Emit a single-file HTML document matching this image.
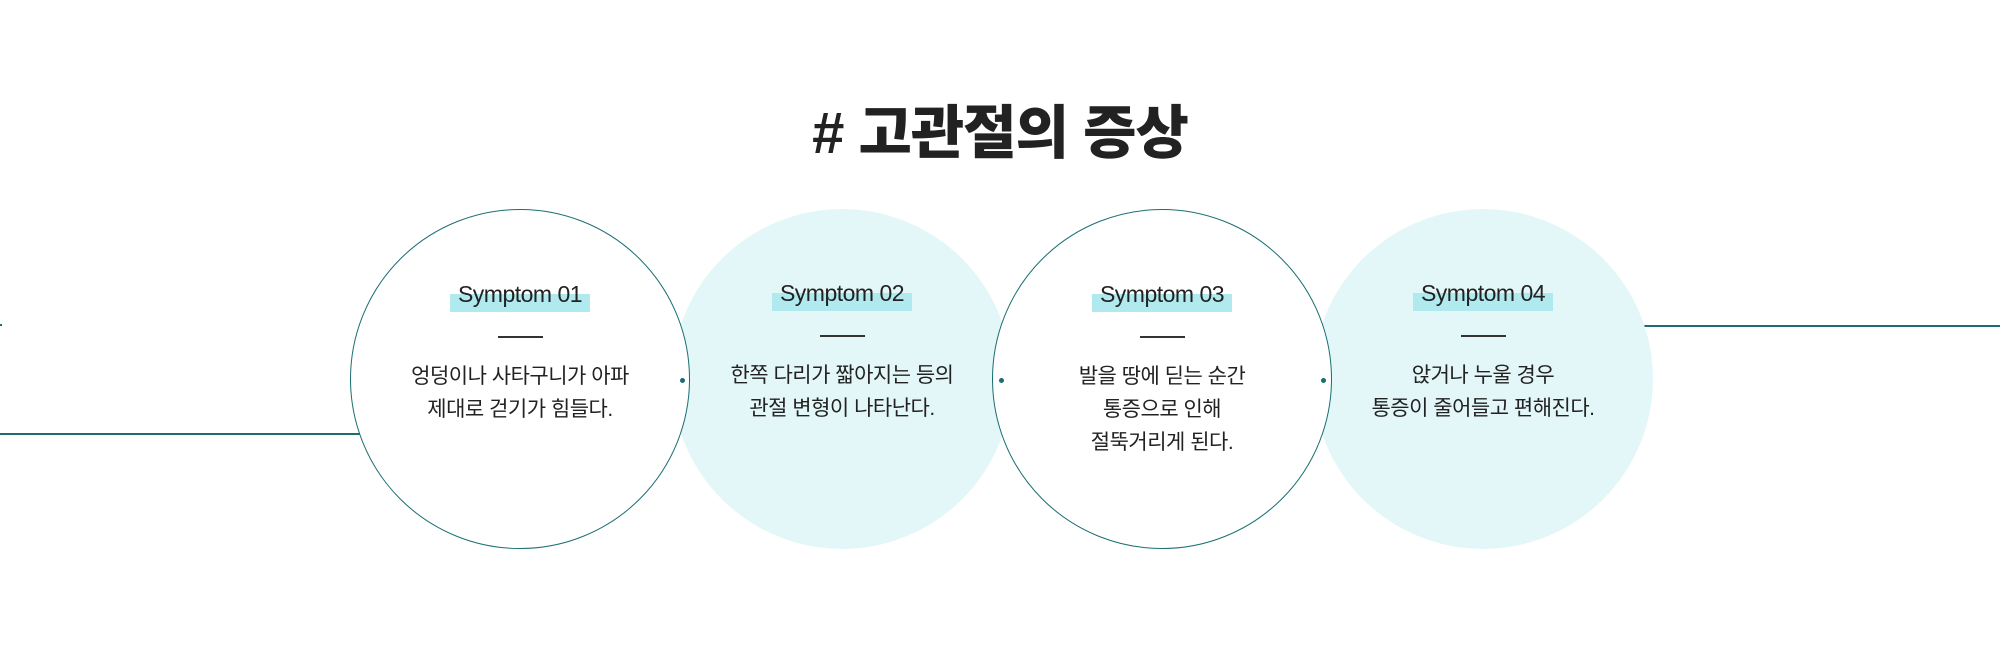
<!DOCTYPE html>
<html><head><meta charset="utf-8"><style>
body{margin:0;width:2000px;height:649px;background:#fff;position:relative;overflow:hidden;font-family:"Liberation Sans","Noto Sans CJK KR",sans-serif;color:#222}
.t{position:absolute;left:0;width:2000px;top:86px;text-align:center;font-size:58px;font-weight:900;color:#222;letter-spacing:-1px}
.c{position:absolute;top:209px;width:340px;height:340px;border-radius:50%;box-sizing:border-box}
.o{border:1.3px solid #1a6e72;background:#fff}
.f{background:#e4f7f8}
.in{position:absolute;top:69px;left:0;width:100%;text-align:center}
.lb{display:inline-block;font-size:23px;position:relative;padding:0 8px;letter-spacing:-0.5px;line-height:30px}
.lb:before{content:"";position:absolute;left:0;right:0;bottom:-3px;height:18px;background:#b0eaee;z-index:-1}
.lb span{position:relative}
.d{width:45px;height:1.5px;background:#333;margin:27px auto 22px}
.tx{font-size:21px;line-height:33px;letter-spacing:-0.5px}
.ln{position:absolute;height:1.5px;background:#1a6e72}
.dot{position:absolute;width:5px;height:5px;border-radius:50%;background:#1a6e72;top:378px}
</style></head><body>
<div class="t"># 고관절의 증상</div>
<div class="ln" style="left:0;top:433px;width:360px"></div>
<div class="ln" style="left:1644px;top:325px;width:356px"></div>
<div class="ln" style="left:0;top:324px;width:2px"></div>
<div class="c o" style="left:350px;z-index:2"><div class="in"><div class="lb"><span>Symptom 01</span></div><div class="d"></div><div class="tx">엉덩이나 사타구니가 아파<br>제대로 걷기가 힘들다.</div></div></div>
<div class="c f" style="left:672px;z-index:1"><div class="in"><div class="lb"><span>Symptom 02</span></div><div class="d"></div><div class="tx">한쪽 다리가 짧아지는 등의<br>관절 변형이 나타난다.</div></div></div>
<div class="c o" style="left:992px;z-index:2"><div class="in"><div class="lb"><span>Symptom 03</span></div><div class="d"></div><div class="tx">발을 땅에 딛는 순간<br>통증으로 인해<br>절뚝거리게 된다.</div></div></div>
<div class="c f" style="left:1313px;z-index:1"><div class="in"><div class="lb"><span>Symptom 04</span></div><div class="d"></div><div class="tx">앉거나 누울 경우<br>통증이 줄어들고 편해진다.</div></div></div>
<div class="dot" style="left:680px;z-index:3"></div>
<div class="dot" style="left:999px;z-index:3"></div>
<div class="dot" style="left:1321px;z-index:3"></div>
</body></html>
